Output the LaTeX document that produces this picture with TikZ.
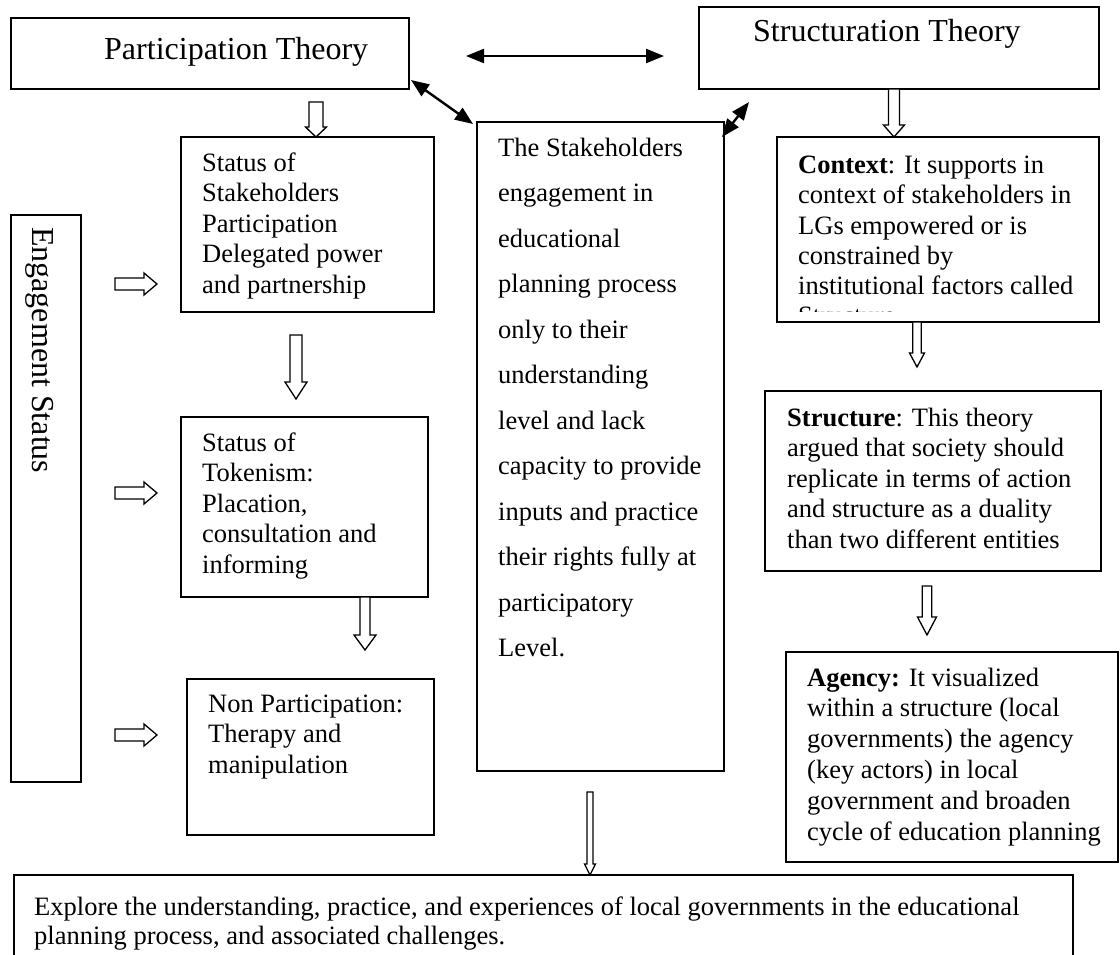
\documentclass[tikz,border=0pt]{standalone}
\usepackage{fontspec}
\setmainfont{Liberation Serif}
\usetikzlibrary{arrows.meta,calc}

\newcommand\bodyfont{\fontsize{26.5}{30.5}\selectfont}
\newcommand\titlefont{\fontsize{32}{36}\selectfont}

% hollow block arrow pointing down: tail, tip, half shaft, half head, head length
\newcommand\downblock[5]{%
  \draw[blockarrow] let \p1=(#1), \p2=(#2) in
    (\x1-#3,\y1) -- (\x1-#3,\y2+#5) -- (\x1-#4,\y2+#5) -- (\x1,\y2)
    -- (\x1+#4,\y2+#5) -- (\x1+#3,\y2+#5) -- (\x1+#3,\y1) -- cycle;}
% hollow block arrow pointing right: tail, tip, half shaft, half head, head length
\newcommand\rightblock[5]{%
  \draw[blockarrow] let \p1=(#1), \p2=(#2) in
    (\x1,\y1+#3) -- (\x2-#5,\y1+#3) -- (\x2-#5,\y1+#4) -- (\x2,\y1)
    -- (\x2-#5,\y1-#4) -- (\x2-#5,\y1-#3) -- (\x1,\y1-#3) -- cycle;}

\begin{document}
\begin{tikzpicture}[x=1pt,y=-1pt,
  box/.style={draw, line width=1.5pt, rectangle, anchor=north west, outer sep=0pt, inner sep=0pt},
  txt/.style={anchor=north west, inner sep=0pt, align=left, font=\bodyfont},
  title/.style={anchor=base west, inner sep=0pt, font=\titlefont},
  blockarrow/.style={draw, fill=white, line width=1.3pt, line join=miter},
  link/.style={line width=2.4pt, {Triangle[length=18pt,width=14pt]}-{Triangle[length=18pt,width=14pt]}}]

\fill[white] (0,0) rectangle (1120,954);
\useasboundingbox (0,0) rectangle (1120,954);

% theory boxes
\node[box, minimum width=398, minimum height=71] (partbox) at (11,18) {};
\node[title] (partT) at (104,59) {Participation Theory};
\node[box, minimum width=400, minimum height=82] (strbox) at (699,7) {};
\node[title] (strT) at (753,41) {Structuration Theory};

% engagement status column
\node[box, minimum width=70, minimum height=567] (engbox) at (11,215) {};
\node[title, rotate=-90] (engT) at (32,227) {Engagement Status};

% ladder of participation
\node[box, minimum width=253, minimum height=175] (status) at (181,137) {};
\node[txt] (statusT) at (202,149.7) {\strut Status of\\Stakeholders\\Participation\\Delegated power\\and partnership};
\node[box, minimum width=247, minimum height=180] (token) at (181,417) {};
\node[txt] (tokenT) at (202,429.7) {\strut Status of\\Tokenism:\\Placation,\\consultation and\\informing};
\node[box, minimum width=247, minimum height=156] (nonpart) at (187,679) {};
\node[txt] (nonpartT) at (208,690.7) {\strut Non Participation:\\Therapy and\\manipulation};

% central statement
\node[box, minimum width=247, minimum height=649] (mid) at (477,122) {};
\node[txt, font=\fontsize{26.5}{45.5}\selectfont] (midT) at (498,124.2) {\strut The Stakeholders\\engagement in\\educational\\planning process\\only to their\\understanding\\level and lack\\capacity to provide\\inputs and practice\\their rights fully at\\participatory\\Level.};

% structuration elements
\node[box, minimum width=322, minimum height=185] (context) at (777,137) {};
\begin{scope}
  \clip (777,137) rectangle (1099,311);
  \node[txt, font=\fontsize{26.5}{30.2}\selectfont] (contextT) at (798,152.4) {\strut\textbf{Context}: It supports in\\context of stakeholders in\\LGs empowered or is\\constrained by\\institutional factors called\\Structure};
\end{scope}
\node[box, minimum width=336, minimum height=180] (structure) at (765,391) {};
\node[txt] (structureT) at (787,404.7) {\strut\textbf{Structure}: This theory\\argued that society should\\replicate in terms of action\\and structure as a duality\\than two different entities};
\node[box, minimum width=332, minimum height=210] (agency) at (786,652) {};
\node[txt, font=\fontsize{26.5}{30.8}\selectfont] (agencyT) at (807,664.4) {\strut\textbf{Agency:} It visualized\\within a structure (local\\governments) the agency\\(key actors) in local\\government and broaden\\cycle of education planning};

% study aim
\node[box, minimum width=1059, minimum height=100] (explore) at (14,875) {};
\node[txt, font=\fontsize{26.5}{29}\selectfont] (exploreT) at (34,894.7) {\strut Explore the understanding, practice, and experiences of local governments in the educational\\planning process, and associated challenges.};

% two-way links between the theories and the central statement
\coordinate (h1) at (466,56);
\coordinate (h2) at (664,56);
\draw[link] (h1) -- (h2);
\coordinate (d1) at (411,80);
\coordinate (d2) at (473,124);
\draw[link] (d1) -- (d2);
\coordinate (e1) at (749,102);
\coordinate (e2) at (722,137);
\draw[link] (e1) -- (e2);

% block arrows down the columns
\coordinate (b1) at (316,102);
\downblock{b1}{b1 |- status.north}{7pt}{10.5pt}{10pt}
\coordinate (b2) at (296,335);
\coordinate (b2t) at (296,399);
\downblock{b2}{b2t}{6pt}{11pt}{17pt}
\coordinate (b3) at (365,597);
\coordinate (b3t) at (365,650);
\downblock{b3}{b3t}{5pt}{11pt}{15pt}
\coordinate (b4) at (894,89);
\downblock{b4}{b4 |- context.north}{5.5pt}{10.5pt}{12pt}
\coordinate (b5) at (917,322);
\coordinate (b5t) at (917,367);
\downblock{b5}{b5t}{4.2pt}{7.5pt}{14pt}
\coordinate (b6) at (927,586);
\coordinate (b6t) at (927,635);
\downblock{b6}{b6t}{4.7pt}{9.5pt}{18pt}
\coordinate (b7) at (590,792);
\downblock{b7}{b7 |- explore.north}{3pt}{5.5pt}{11pt}

% engagement status pointers
\coordinate (r1) at (115,284);
\coordinate (r1t) at (157,284);
\rightblock{r1}{r1t}{6pt}{11pt}{13pt}
\coordinate (r2) at (115,493);
\coordinate (r2t) at (157,493);
\rightblock{r2}{r2t}{6pt}{11pt}{13pt}
\coordinate (r3) at (115,735);
\coordinate (r3t) at (157,735);
\rightblock{r3}{r3t}{6pt}{11pt}{13pt}

\end{tikzpicture}
\end{document}
